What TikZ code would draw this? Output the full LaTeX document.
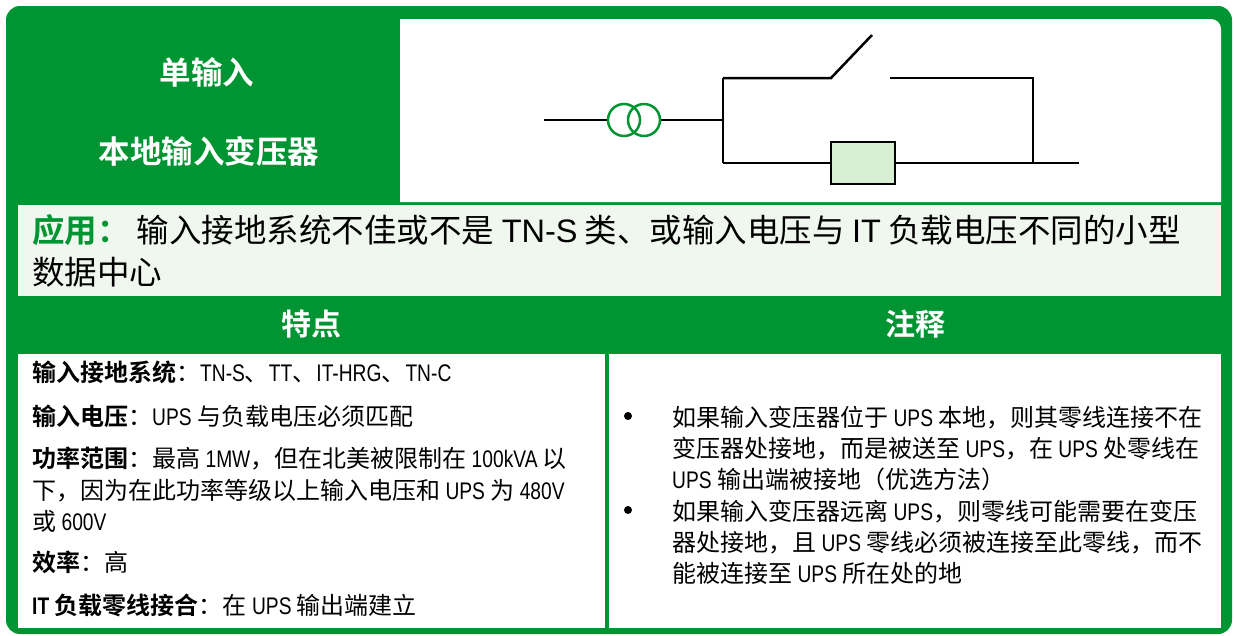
\documentclass[tikz,border=0pt]{standalone}
\usepackage{fontspec}
\setmainfont{Noto Sans CJK SC}[BoldFont={Noto Sans CJK SC Bold}]
\newfontfamily\nr{Liberation Sans}[FakeStretch=0.8]
\newfontfamily\ar{Liberation Sans}
\definecolor{sgreen}{HTML}{009432}
\definecolor{appbg}{HTML}{F0F7EE}
\definecolor{boxfill}{HTML}{D8EFD4}
\tikzset{
  body/.style={anchor=base west, inner sep=0, font=\fontsize{24}{29}\selectfont, text=black},
  apptext/.style={anchor=base west, inner sep=0, font=\fontsize{32.5}{39}\selectfont, text=black},
  headtext/.style={anchor=base, inner sep=0, font=\fontsize{31.5}{38}\selectfont\bfseries, text=white},
  coltext/.style={anchor=base, inner sep=0, font=\fontsize{30}{36}\selectfont\bfseries, text=white},
  bul/.style={circle, fill=black, inner sep=0, minimum size=8pt},
  wire/.style={line width=2.5pt, black},
  coil/.style={line width=2.5pt, sgreen},
}
\begin{document}
\begin{tikzpicture}[x=1pt,y=-1pt]
\useasboundingbox (0,0) rectangle (1234,635);
% frame
\fill[sgreen, rounded corners=14pt] (6,6) rectangle (1232,634);
\fill[white] (400,202) -- (400,19) -- (1211,19) arc[start angle=-90, end angle=0, radius=10] -- (1221,202) -- cycle;
\fill[appbg] (18,205) rectangle (1221,296);
\fill[white] (18,354) rectangle (605,628);
\fill[white] (609,354) rectangle (1221,628);
% header texts
\node[headtext] (h1) at (207,84) {单输入};
\node[headtext] (h2) at (209,163) {本地输入变压器};
% circuit
\coordinate (in) at (544,120);
\coordinate (t1) at (624,120);
\coordinate (t2) at (644,120);
\coordinate (ta) at (608,120);
\coordinate (tb) at (660,120);
\coordinate (jn) at (723,120);
\coordinate (tl) at (723,78);
\coordinate (bl) at (723,163);
\coordinate (sw1) at (831,78);
\coordinate (sw2) at (872,35);
\coordinate (sw3) at (890,78);
\coordinate (tr) at (1033,78);
\coordinate (br) at (1033,163);
\coordinate (bx1) at (831,163);
\coordinate (bx2) at (895,163);
\coordinate (out) at (1079,163);
\draw[wire] (in) -- (ta);
\draw[wire] (tb) -- (jn);
\draw[wire] (tl) -- (bl);
\draw[wire, line join=miter] (bl |- tl) -- (sw1) -- (sw2);
\draw[wire] (sw3) -- (tr) -- (br);
\draw[wire] (bl) -- (bx1);
\draw[wire] (bx2) -- (out);
\node[draw=black, line width=2.2pt, fill=boxfill, minimum width=64pt, minimum height=42pt, inner sep=0] (ups) at (863,163) {};
\draw[coil] (t1) circle (16);
\draw[coil] (t2) circle (16);
% application
\node[apptext] (a1) at (32,242.4) {\textcolor{sgreen}{\bfseries 应用：} 输入接地系统不佳或不是 {\ar TN-S} 类、或输入电压与 {\ar IT} 负载电压不同的小型};
\node[apptext] (a2) at (32,284.4) {数据中心};
% column headers
\node[coltext] (c1) at (311,335.4) {特点};
\node[coltext] (c2) at (915,335.4) {注释};
% left cell
\node[body] (l1) at (32,381.1) {\textbf{输入接地系统}：{\nr TN-S}、{\nr TT}、{\nr IT-HRG}、{\nr TN-C}};
\node[body] (l2) at (32,425.1) {\textbf{输入电压}：{\nr UPS} 与负载电压必须匹配};
\node[body] (l3) at (32,467.1) {\textbf{功率范围}：最高 {\nr 1MW}，但在北美被限制在 {\nr 100kVA} 以};
\node[body] (l4) at (32,499.1) {下，因为在此功率等级以上输入电压和 {\nr UPS} 为 {\nr 480V}};
\node[body] (l5) at (32,530.1) {或 {\nr 600V}};
\node[body] (l6) at (32,571.1) {\textbf{效率}：高};
\node[body] (l7) at (32,614.1) {\textbf{{\nr IT} 负载零线接合}：在 {\nr UPS} 输出端建立};
% right cell
\node[bul] (b1) at (628,416) {};
\node[bul] (b2) at (628,510) {};
\node[body] (r1) at (672,426.1) {如果输入变压器位于 {\nr UPS} 本地，则其零线连接不在};
\node[body] (r2) at (672,457.1) {变压器处接地，而是被送至 {\nr UPS}，在 {\nr UPS} 处零线在};
\node[body] (r3) at (672,488.1) {{\nr UPS} 输出端被接地（优选方法）};
\node[body] (r4) at (672,520.1) {如果输入变压器远离 {\nr UPS}，则零线可能需要在变压};
\node[body] (r5) at (672,551.1) {器处接地，且 {\nr UPS} 零线必须被连接至此零线，而不};
\node[body] (r6) at (672,582.1) {能被连接至 {\nr UPS} 所在处的地};
\end{tikzpicture}
\end{document}
